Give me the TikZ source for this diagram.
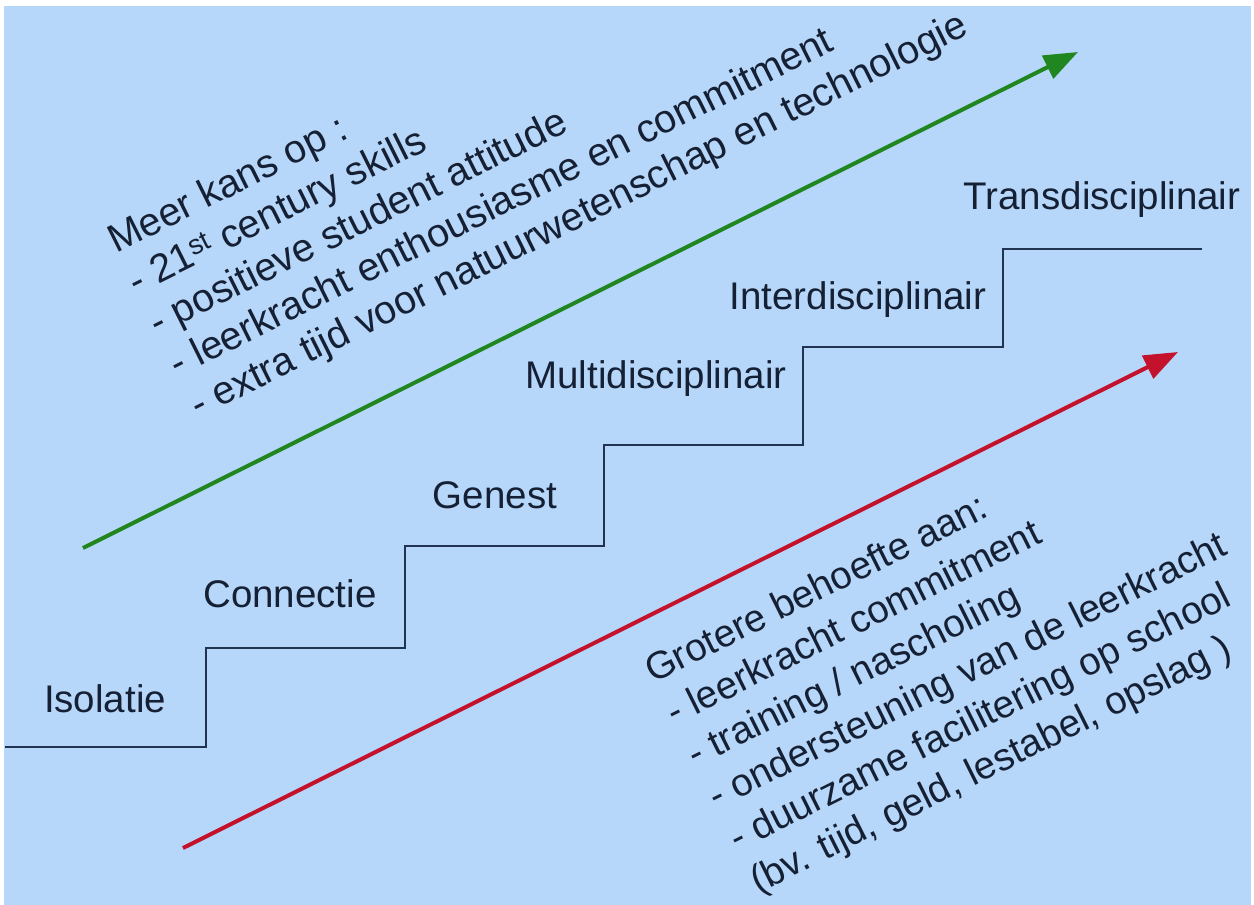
\documentclass[tikz,border=0pt]{standalone}
\usepackage{fontspec}
\setmainfont{Liberation Sans}
\usetikzlibrary{arrows.meta}
\definecolor{bgblue}{RGB}{182,215,249}
\definecolor{ink}{RGB}{22,32,52}
\definecolor{stair}{RGB}{32,52,82}
\definecolor{agreen}{RGB}{32,134,32}
\definecolor{ared}{RGB}{196,18,44}
\begin{document}
\begin{tikzpicture}[x=1pt,y=-1pt,
  lvl/.style={font=\fontsize{38.5}{46}\selectfont, text=ink, inner sep=0pt, anchor=base},
  slant/.style={font=\fontsize{38.5}{46}\selectfont, text=ink, inner sep=0pt, anchor=base west, rotate=26.5},
  slanttop/.style={slant, font=\fontsize{39.5}{47}\selectfont},
  trend/.style={line width=4pt, -{Triangle[length=34pt,width=25pt]}},
  stairline/.style={draw=stair, line width=2pt}]
\useasboundingbox (0,0) rectangle (1254,905);
\fill[white] (0,0) rectangle (1254,905);
\fill[bgblue] (4,6) rectangle (1251,905);
% staircase
\draw[stairline] (5,747) -- (206,747) -- (206,648) -- (405,648) -- (405,546)
  -- (604,546) -- (604,445) -- (803,445) -- (803,347) -- (1003,347)
  -- (1003,249) -- (1202,249);
% level labels
\node[lvl] (iso) at (105,712) {Isolatie};
\node[lvl] (con) at (290,607) {Connectie};
\node[lvl] (gen) at (495,508) {Genest};
\node[lvl] (mul) at (656,388) {Multidisciplinair};
\node[lvl] (int) at (858,309) {Interdisciplinair};
\node[lvl] (tra) at (1102,209) {Transdisciplinair};
% arrows
\coordinate (g0) at (83,548);
\coordinate (g1) at (1078,52);
\coordinate (r0) at (183,848);
\coordinate (r1) at (1178,352);
\draw[trend, agreen] (g0) -- (g1);
\draw[trend, ared] (r0) -- (r1);
% upper text block
\node[slanttop] (t0) at (116,254) {Meer kans op :};
\node[slanttop] (t1) at (136.5,295.2) {- 21\textsuperscript{st} century skills};
\node[slanttop] (t2) at (157,336.4) {- positieve student attitude};
\node[slanttop] (t3) at (177.5,377.6) {- leerkracht enthousiasme en commitment};
\node[slanttop] (t4) at (198,418.8) {- extra tijd voor natuurwetenschap en technologie};
% lower text block
\node[slant] (b0) at (653,684) {Grotere behoefte aan:};
\node[slant] (b1) at (674,726) {- leerkracht commitment};
\node[slant] (b2) at (695,768) {- training / nascholing};
\node[slant] (b3) at (716,810) {- ondersteuning van de leerkracht};
\node[slant] (b4) at (737,852) {- duurzame facilitering op school};
\node[slant] (b5) at (758,894) {(bv. tijd, geld, lestabel, opslag )};
\end{tikzpicture}
\end{document}
